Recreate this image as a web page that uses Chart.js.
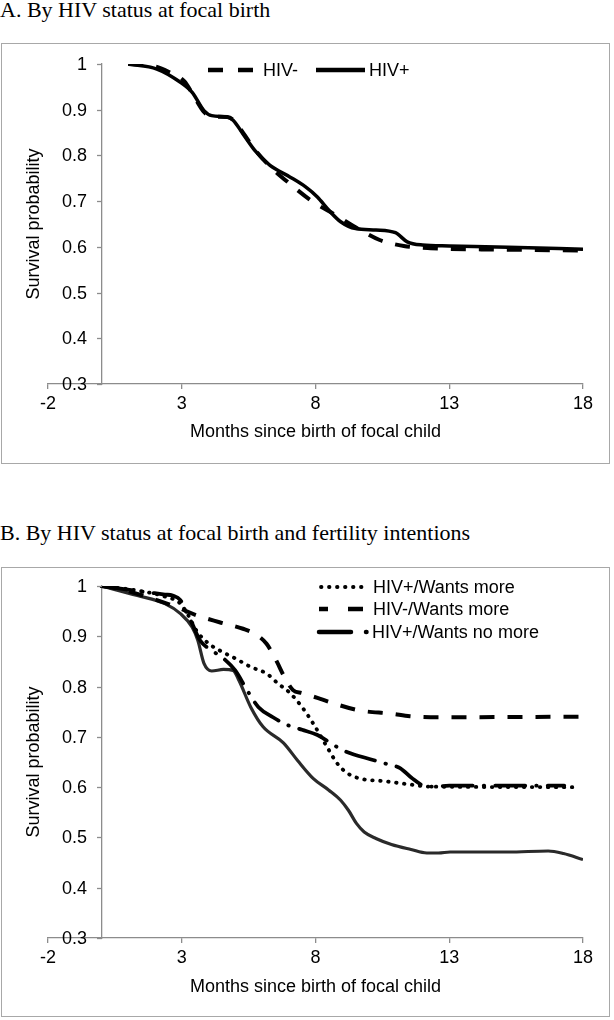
<!DOCTYPE html>
<html>
<head>
<meta charset="utf-8">
<script src="https://cdn.jsdelivr.net/npm/chart.js@4.4.0/dist/chart.umd.min.js"></script>
<style>
  body { margin: 0; background: #fff; width: 614px; height: 1020px; position: relative; overflow: hidden; }
  .title { position: absolute; left: 0; font-family: "Liberation Serif", "Times New Roman", serif; font-size: 22px; line-height: 22px; color: #000; white-space: nowrap; }
  .box { position: absolute; left: 1px; width: 607px; border: 1.5px solid #a8a8a8; }
  canvas { position: absolute; left: 0; }
</style>
</head>
<body>
<div class="title" style="top:-1px">A. By HIV status at focal birth</div>
<div class="box" style="top:43px;height:419px"></div>
<canvas id="chartA" width="610" height="418" style="top:45px"></canvas>

<div class="title" style="top:522px">B. By HIV status at focal birth and fertility intentions</div>
<div class="box" style="top:567px;height:448px"></div>
<canvas id="chartB" width="610" height="447" style="top:569px"></canvas>

<script>
// axis ticks
const xTicks = [-2, 3, 8, 13, 18];
const yTicks = [0.3, 0.4, 0.5, 0.6, 0.7, 0.8, 0.9, 1];
const yTickLabels = ['0.3', '0.4', '0.5', '0.6', '0.7', '0.8', '0.9', '1'];

// Panel A: HIV status at focal birth
const aNegMonths = [1, 2.1, 2.5, 3.1, 3.4, 3.83, 4.12, 4.7, 4.92, 5.29, 5.73, 6.3, 7.04, 7.92, 8.8, 9.67, 10.4, 11.3, 12.3, 15, 18];
const aNegSurv   = [1, 0.993, 0.983, 0.962, 0.935, 0.895, 0.885, 0.884, 0.878, 0.85, 0.813, 0.776, 0.738, 0.698, 0.668, 0.637, 0.615, 0.602, 0.597, 0.594, 0.592];
const aPosMonths = [1, 2.07, 2.95, 3.39, 3.83, 4.12, 4.7, 4.92, 5.29, 5.73, 6.3, 7.04, 7.63, 8.07, 8.5, 8.94, 9.5, 10.26, 10.99, 11.43, 12.0, 13.0, 15.2, 18];
const aPosSurv   = [1, 0.989, 0.96, 0.938, 0.898, 0.887, 0.884, 0.877, 0.847, 0.811, 0.778, 0.753, 0.731, 0.709, 0.68, 0.655, 0.64, 0.637, 0.631, 0.611, 0.604, 0.602, 0.599, 0.595];

// Panel B: HIV status and fertility intentions
const bPosMoreMonths = [0, 1.34, 2.37, 2.95, 3.24, 3.54, 3.97, 4.41, 5.0, 5.58, 6.17, 6.6, 7.05, 7.5, 7.92, 8.43, 8.8, 9.18, 9.67, 10.55, 11.43, 12.3, 17.8];
const bPosMoreSurv   = [1, 0.991, 0.979, 0.965, 0.942, 0.912, 0.887, 0.872, 0.856, 0.839, 0.826, 0.806, 0.787, 0.759, 0.726, 0.68, 0.648, 0.628, 0.617, 0.612, 0.606, 0.601, 0.6];
const bNegMoreMonths = [0, 0.6, 2.07, 2.95, 3.54, 4.41, 5.29, 5.73, 6.17, 6.56, 6.8, 7.16, 7.5, 8.1, 8.54, 9.6, 10.84, 11.53, 12.3, 18];
const bNegMoreSurv   = [1, 0.995, 0.972, 0.955, 0.942, 0.928, 0.915, 0.905, 0.885, 0.849, 0.823, 0.793, 0.787, 0.777, 0.769, 0.753, 0.746, 0.741, 0.739, 0.74];
const bPosNoMoreMonths = [0, 1.34, 2.37, 2.66, 2.95, 3.17, 3.39, 3.68, 4.12, 4.56, 5.0, 5.44, 5.87, 6.41, 6.93, 7.5, 8.05, 8.5, 9.0, 10.15, 10.67, 11.16, 11.6, 12.0, 12.5, 13.0, 17.3];
const bPosNoMoreSurv   = [1, 0.99, 0.983, 0.981, 0.972, 0.948, 0.925, 0.892, 0.872, 0.856, 0.832, 0.793, 0.759, 0.739, 0.724, 0.714, 0.704, 0.69, 0.674, 0.654, 0.646, 0.638, 0.618, 0.604, 0.601, 0.603, 0.603];
const bNegNoMoreMonths = [0, 1.34, 2.37, 2.95, 3.39, 3.6, 3.83, 4.12, 4.56, 4.92, 5.14, 5.58, 6.04, 6.8, 7.33, 7.92, 8.5, 8.94, 9.23, 9.53, 9.82, 10.26, 10.84, 11.57, 12.16, 12.6, 13.03, 15.2, 16.7, 17.27, 18];
const bNegNoMoreSurv   = [1, 0.981, 0.965, 0.945, 0.918, 0.892, 0.846, 0.831, 0.834, 0.832, 0.812, 0.759, 0.72, 0.688, 0.653, 0.617, 0.594, 0.574, 0.554, 0.528, 0.511, 0.498, 0.486, 0.476, 0.469, 0.469, 0.471, 0.471, 0.473, 0.468, 0.456];

const FONT = "'Liberation Sans', Arial, sans-serif";
const AXIS_GRAY = '#8c8c8c';

function pts(xs, ys) {
  return xs.map((x, i) => ({ x: x, y: ys[i] }));
}

function line(label, xs, ys, style) {
  return Object.assign({
    label: label,
    data: pts(xs, ys),
    borderColor: '#000',
    borderWidth: 3.5,
    pointRadius: 0,
    fill: false,
    cubicInterpolationMode: 'monotone'
  }, style);
}

// y ticks + labels, axis titles and legend drawn on the canvas
const decorPlugin = {
  id: 'decor',
  afterDraw(chart, args, opts) {
    const ctx = chart.ctx;
    const area = chart.chartArea;
    const xs = chart.scales.x;
    const ys = chart.scales.y;
    ctx.save();

    // y axis sits at x = 0, labels to its left
    const axisX = Math.round(xs.getPixelForValue(0));
    ctx.strokeStyle = AXIS_GRAY;
    ctx.lineWidth = 1.3;
    yTicks.forEach(v => {
      const py = Math.round(ys.getPixelForValue(v)) + 0.5;
      ctx.beginPath();
      ctx.moveTo(axisX - 5, py);
      ctx.lineTo(axisX, py);
      ctx.stroke();
    });

    ctx.fillStyle = '#000';
    ctx.font = '18px ' + FONT;
    ctx.textAlign = 'right';
    ctx.textBaseline = 'middle';
    yTicks.forEach((v, i) => {
      ctx.fillText(yTickLabels[i], axisX - 15, ys.getPixelForValue(v) + 1);
    });

    ctx.textAlign = 'center';
    ctx.fillText('Months since birth of focal child', (area.left + area.right) / 2, area.bottom + opts.xTitleOffset);
    ctx.translate(34, (area.top + area.bottom) / 2);
    ctx.rotate(-Math.PI / 2);
    ctx.fillText('Survival probability', 0, 0);
    ctx.restore();

    opts.legend.forEach(item => {
      ctx.save();
      ctx.strokeStyle = item.color || '#000';
      ctx.lineWidth = item.width;
      ctx.lineCap = item.cap || 'butt';
      ctx.setLineDash(item.dash || []);
      ctx.lineDashOffset = item.offset || 0;
      ctx.beginPath();
      ctx.moveTo(item.x1, item.y);
      ctx.lineTo(item.x2, item.y);
      ctx.stroke();
      ctx.setLineDash([]);
      ctx.fillStyle = '#000';
      ctx.font = '18px ' + FONT;
      ctx.textAlign = 'left';
      ctx.textBaseline = 'middle';
      ctx.fillText(item.label, item.textX, item.y + 1);
      ctx.restore();
    });
  }
};

function makeChart(id, datasets, layout) {
  return new Chart(document.getElementById(id), {
    type: 'line',
    data: { datasets: datasets },
    options: {
      responsive: false,
      animation: false,
      layout: { padding: layout.padding },
      plugins: {
        legend: { display: false },
        tooltip: { enabled: false },
        decor: { legend: layout.legend, xTitleOffset: layout.xTitleOffset }
      },
      scales: {
        x: {
          type: 'linear',
          min: -2,
          max: 18,
          position: 'bottom',
          afterBuildTicks: s => { s.ticks = xTicks.map(v => ({ value: v })); },
          afterFit: s => { s.height = layout.xAxisHeight; },
          ticks: {
            autoSkip: false,
            maxRotation: 0,
            padding: 4,
            color: '#000',
            font: { family: FONT, size: 18 },
            callback: (v, i) => String(xTicks[i])
          },
          grid: { drawOnChartArea: false, drawTicks: true, tickLength: 5, color: AXIS_GRAY, lineWidth: 1.3 },
          border: { display: true, color: AXIS_GRAY, width: 1.3 }
        },
        y: {
          type: 'linear',
          min: 0.3,
          max: 1,
          position: { x: 0 },
          afterBuildTicks: s => { s.ticks = yTicks.map(v => ({ value: v })); },
          ticks: { display: false },
          grid: { display: false },
          border: { display: true, color: AXIS_GRAY, width: 1.3 }
        }
      }
    },
    plugins: [decorPlugin]
  });
}

const dashA = [15, 13];
makeChart('chartA', [
  line('HIV-', aNegMonths, aNegSurv, { borderDash: dashA, borderWidth: 4 }),
  line('HIV+', aPosMonths, aPosSurv, { borderWidth: 3.5 })
], {
  padding: { left: 48, right: 27, top: 19, bottom: 0 },
  xAxisHeight: 79,
  xTitleOffset: 48,
  legend: [
    { label: 'HIV-', x1: 208, x2: 253, y: 25, width: 4.5, dash: [15, 15], textX: 263 },
    { label: 'HIV+', x1: 316, x2: 365, y: 25, width: 4.5, textX: 369 }
  ]
});

const dotB = [0.5, 7.5];
const dashB = [15, 13];
const dashDotB = [30, 11, 0.5, 11];
makeChart('chartB', [
  line('HIV+/Wants more', bPosMoreMonths, bPosMoreSurv, { borderDash: dotB, borderCapStyle: 'round', borderWidth: 3.8 }),
  line('HIV-/Wants more', bNegMoreMonths, bNegMoreSurv, { borderDash: dashB, borderWidth: 4 }),
  line('HIV+/Wants no more', bPosNoMoreMonths, bPosNoMoreSurv, { borderDash: dashDotB, borderCapStyle: 'round', borderWidth: 3.8 }),
  line('HIV-/Wants no more', bNegNoMoreMonths, bNegNoMoreSurv, { borderColor: '#2a2a2a', borderWidth: 3.2 })
], {
  padding: { left: 48, right: 27, top: 17, bottom: 0 },
  xAxisHeight: 78,
  xTitleOffset: 49,
  legend: [
    { label: 'HIV+/Wants more', x1: 321, x2: 363, y: 18, width: 3.8, dash: dotB, cap: 'round', textX: 373 },
    { label: 'HIV-/Wants more', x1: 319, x2: 363, y: 40, width: 4.5, dash: [15, 20], offset: 6, textX: 373 },
    { label: 'HIV+/Wants no more', x1: 319, x2: 367, y: 63, width: 4.5, dash: [32, 15, 0.5, 10], cap: 'round', textX: 372 }
  ]
});
</script>
</body>
</html>
